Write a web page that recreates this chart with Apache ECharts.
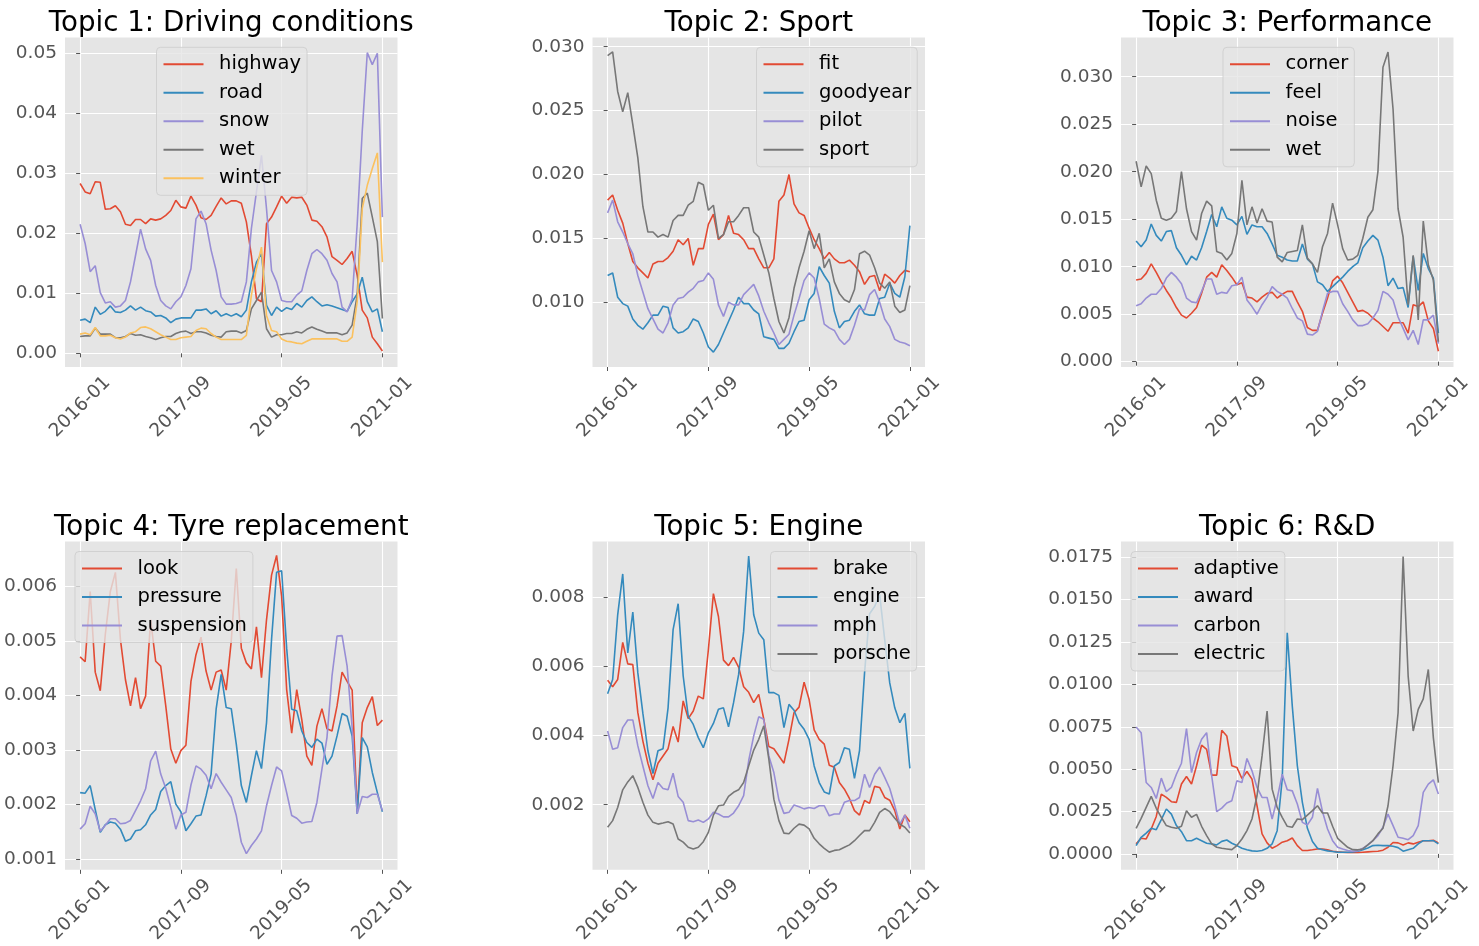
<!DOCTYPE html>
<html><head><meta charset="utf-8">
<script src="https://cdn.jsdelivr.net/npm/echarts@6/dist/echarts.min.js"></script>
<style>html,body{margin:0;padding:0;background:#fff}#c{width:1479px;height:946px}</style>
</head><body><div id="c"></div>
<script>
// ---------- categories ----------
const months = [];
for (let y = 2016; y <= 2021; y++) for (let m = 1; m <= 12; m++) { if (y === 2021 && m > 1) break; months.push(y + '-' + String(m).padStart(2, '0')); }
const xTickIdx = [0, 20, 40, 60];

// ---------- Topic 1 ----------
const t1Names = ['highway', 'road', 'snow', 'wet', 'winter'];
const t1_highway = [0.0283,0.0269,0.0266,0.0286,0.0285,0.0240,0.0241,0.0246,0.0236,0.0215,
 0.0213,0.0223,0.0223,0.0216,0.0224,0.0222,0.0224,0.0230,0.0238,0.0255,
 0.0244,0.0242,0.0262,0.0247,0.0226,0.0223,0.0230,0.0245,0.0259,0.0249,
 0.0254,0.0254,0.0250,0.0219,0.0163,0.0091,0.0086,0.0216,0.0227,0.0244,
 0.0262,0.0250,0.0260,0.0259,0.0260,0.0247,0.0222,0.0220,0.0211,0.0194,
 0.0161,0.0155,0.0148,0.0158,0.0170,0.0130,0.0072,0.0059,0.0027,0.0016,0.0004];
const t1_road = [0.0055,0.0057,0.0051,0.0077,0.0065,0.0070,0.0079,0.0069,0.0068,0.0072,
 0.0079,0.0072,0.0077,0.0071,0.0069,0.0062,0.0063,0.0059,0.0051,0.0057,
 0.0059,0.0059,0.0059,0.0072,0.0072,0.0074,0.0066,0.0071,0.0062,0.0066,
 0.0062,0.0066,0.0061,0.0072,0.0119,0.0152,0.0166,0.0080,0.0063,0.0077,
 0.0070,0.0076,0.0073,0.0083,0.0077,0.0088,0.0094,0.0086,0.0079,0.0081,
 0.0079,0.0076,0.0073,0.0070,0.0086,0.0099,0.0127,0.0086,0.0069,0.0074,0.0036];
const t1_snow = [0.0215,0.0183,0.0136,0.0146,0.0101,0.0084,0.0086,0.0077,0.0079,0.0088,
 0.0119,0.0163,0.0207,0.0174,0.0155,0.0113,0.0088,0.0079,0.0074,0.0086,
 0.0094,0.0113,0.0141,0.0224,0.0237,0.0216,0.0172,0.0138,0.0094,0.0082,
 0.0082,0.0083,0.0086,0.0119,0.0208,0.0269,0.0330,0.0241,0.0138,0.0119,
 0.0088,0.0086,0.0086,0.0097,0.0104,0.0138,0.0166,0.0173,0.0166,0.0155,
 0.0133,0.0119,0.0077,0.0069,0.0091,0.0215,0.0370,0.0501,0.0481,0.0500,0.0227];
const t1_wet = [0.0028,0.0029,0.0029,0.0042,0.0032,0.0032,0.0032,0.0026,0.0026,0.0028,
 0.0033,0.0030,0.0031,0.0028,0.0026,0.0023,0.0026,0.0028,0.0028,0.0033,
 0.0036,0.0037,0.0033,0.0036,0.0036,0.0034,0.0030,0.0028,0.0027,0.0036,
 0.0037,0.0037,0.0034,0.0038,0.0074,0.0088,0.0102,0.0041,0.0027,0.0031,
 0.0031,0.0033,0.0033,0.0036,0.0034,0.0040,0.0044,0.0040,0.0037,0.0034,
 0.0034,0.0034,0.0031,0.0034,0.0047,0.0097,0.0258,0.0267,0.0227,0.0186,0.0058];
const t1_winter = [0.0032,0.0034,0.0031,0.0043,0.0029,0.0029,0.0030,0.0026,0.0024,0.0027,
 0.0034,0.0036,0.0043,0.0044,0.0041,0.0036,0.0031,0.0027,0.0023,0.0023,
 0.0026,0.0027,0.0028,0.0038,0.0042,0.0041,0.0033,0.0027,0.0023,0.0023,
 0.0023,0.0023,0.0023,0.0030,0.0097,0.0141,0.0177,0.0063,0.0038,0.0036,
 0.0024,0.0020,0.0019,0.0017,0.0016,0.0020,0.0024,0.0024,0.0024,0.0024,
 0.0024,0.0024,0.0020,0.0020,0.0027,0.0086,0.0241,0.0280,0.0308,0.0334,0.0152];
const t1Ticks = [0, 0.01, 0.02, 0.03, 0.04, 0.05];

// ---------- Topic 2 ----------
const t2Names = ['fit', 'goodyear', 'pilot', 'sport'];
const t2_fit = [0.0180,0.0184,0.0172,0.0162,0.0146,0.0132,0.0127,0.0123,0.0119,0.0130,
 0.0132,0.0132,0.0135,0.0140,0.0149,0.0145,0.0150,0.0129,0.0142,0.0142,
 0.0161,0.0169,0.0149,0.0153,0.0168,0.0154,0.0153,0.0149,0.0142,0.0142,
 0.0134,0.0127,0.0127,0.0134,0.0179,0.0184,0.0200,0.0177,0.0170,0.0168,
 0.0158,0.0149,0.0142,0.0134,0.0139,0.0134,0.0131,0.0131,0.0133,0.0129,
 0.0124,0.0114,0.0120,0.0121,0.0109,0.0122,0.0119,0.0115,0.0121,0.0125,0.0124];
const t2_goodyear = [0.0121,0.0123,0.0104,0.0099,0.0097,0.0087,0.0082,0.0079,0.0084,0.0090,
 0.0090,0.0097,0.0096,0.0080,0.0076,0.0077,0.0080,0.0087,0.0085,0.0076,
 0.0065,0.0061,0.0067,0.0076,0.0085,0.0094,0.0104,0.0099,0.0099,0.0094,
 0.0091,0.0073,0.0072,0.0071,0.0064,0.0064,0.0068,0.0077,0.0085,0.0086,
 0.0102,0.0107,0.0128,0.0121,0.0115,0.0093,0.0080,0.0085,0.0086,0.0093,
 0.0098,0.0091,0.0090,0.0090,0.0103,0.0104,0.0115,0.0107,0.0104,0.0120,0.0160];
const t2_pilot = [0.0170,0.0180,0.0163,0.0155,0.0146,0.0138,0.0121,0.0108,0.0095,0.0087,
 0.0079,0.0076,0.0084,0.0098,0.0103,0.0104,0.0108,0.0111,0.0116,0.0117,
 0.0123,0.0118,0.0098,0.0089,0.0100,0.0098,0.0098,0.0106,0.0110,0.0114,
 0.0105,0.0093,0.0084,0.0076,0.0067,0.0071,0.0075,0.0090,0.0103,0.0117,
 0.0123,0.0119,0.0103,0.0083,0.0080,0.0078,0.0071,0.0067,0.0071,0.0082,
 0.0095,0.0094,0.0106,0.0110,0.0100,0.0087,0.0081,0.0071,0.0069,0.0068,0.0066];
const t2_sport = [0.0293,0.0296,0.0265,0.0249,0.0264,0.0239,0.0213,0.0175,0.0155,0.0155,
 0.0151,0.0153,0.0151,0.0164,0.0168,0.0168,0.0176,0.0179,0.0194,0.0192,
 0.0172,0.0176,0.0150,0.0153,0.0163,0.0163,0.0168,0.0174,0.0174,0.0155,
 0.0151,0.0137,0.0123,0.0103,0.0085,0.0076,0.0088,0.0111,0.0127,0.0140,
 0.0156,0.0142,0.0154,0.0127,0.0134,0.0116,0.0107,0.0102,0.0100,0.0110,
 0.0138,0.0140,0.0137,0.0127,0.0115,0.0111,0.0116,0.0097,0.0092,0.0094,0.0113];
const t2Ticks = [0.010, 0.015, 0.020, 0.025, 0.030];

// ---------- Topic 3 ----------
const t3Names = ['corner', 'feel', 'noise', 'wet'];
const t3_corner = [0.0086,0.0087,0.0093,0.0103,0.0094,0.0084,0.0075,0.0067,0.0057,0.0049,
 0.0046,0.0051,0.0057,0.0072,0.0089,0.0094,0.0089,0.0102,0.0096,0.0089,
 0.0081,0.0083,0.0068,0.0067,0.0063,0.0068,0.0072,0.0073,0.0067,0.0071,
 0.0074,0.0074,0.0063,0.0053,0.0036,0.0033,0.0033,0.0051,0.0067,0.0085,
 0.0090,0.0083,0.0073,0.0063,0.0053,0.0054,0.0051,0.0046,0.0042,0.0037,
 0.0032,0.0041,0.0041,0.0041,0.0030,0.0060,0.0058,0.0063,0.0043,0.0035,0.0011];
const t3_feel = [0.0127,0.0121,0.0128,0.0145,0.0133,0.0127,0.0137,0.0138,0.0120,0.0112,
 0.0102,0.0111,0.0107,0.0120,0.0137,0.0155,0.0142,0.0163,0.0151,0.0149,
 0.0144,0.0153,0.0134,0.0144,0.0142,0.0142,0.0135,0.0124,0.0112,0.0110,
 0.0107,0.0106,0.0106,0.0124,0.0108,0.0103,0.0084,0.0081,0.0074,0.0079,
 0.0084,0.0089,0.0095,0.0100,0.0104,0.0120,0.0127,0.0133,0.0128,0.0110,
 0.0080,0.0088,0.0077,0.0078,0.0057,0.0111,0.0075,0.0114,0.0098,0.0088,0.0030];
const t3_noise = [0.0059,0.0061,0.0067,0.0071,0.0071,0.0077,0.0088,0.0094,0.0089,0.0082,
 0.0067,0.0063,0.0062,0.0074,0.0087,0.0087,0.0071,0.0073,0.0072,0.0080,
 0.0081,0.0089,0.0065,0.0058,0.0050,0.0060,0.0068,0.0079,0.0074,0.0071,
 0.0067,0.0056,0.0046,0.0043,0.0029,0.0028,0.0032,0.0053,0.0072,0.0074,
 0.0074,0.0061,0.0053,0.0044,0.0038,0.0038,0.0040,0.0046,0.0054,0.0074,
 0.0071,0.0065,0.0047,0.0035,0.0023,0.0033,0.0018,0.0044,0.0044,0.0049,0.0019];
const t3_wet = [0.0211,0.0184,0.0206,0.0198,0.0170,0.0151,0.0149,0.0151,0.0158,0.0200,
 0.0161,0.0137,0.0128,0.0156,0.0169,0.0164,0.0116,0.0114,0.0107,0.0114,
 0.0135,0.0191,0.0144,0.0163,0.0146,0.0161,0.0148,0.0147,0.0110,0.0105,
 0.0115,0.0116,0.0117,0.0144,0.0109,0.0103,0.0094,0.0121,0.0135,0.0167,
 0.0144,0.0119,0.0107,0.0108,0.0112,0.0130,0.0152,0.0160,0.0200,0.0310,
 0.0326,0.0266,0.0161,0.0131,0.0060,0.0112,0.0044,0.0148,0.0102,0.0086,0.0021];
const t3Ticks = [0, 0.005, 0.010, 0.015, 0.020, 0.025, 0.030];

// ---------- Topic 4 ----------
const t4Names = ['look', 'pressure', 'suspension'];
const t4_look = [0.00471,0.00462,0.00591,0.00443,0.00409,0.00512,0.00591,0.00626,0.00503,0.00429,
 0.00381,0.00433,0.00376,0.00399,0.00539,0.00463,0.00454,0.00381,0.00302,0.00276,
 0.00299,0.00309,0.00426,0.00475,0.00507,0.00445,0.00410,0.00443,0.00447,0.00410,
 0.00500,0.00633,0.00487,0.00460,0.00449,0.00526,0.00433,0.00539,0.00621,0.00657,
 0.00582,0.00411,0.00331,0.00411,0.00356,0.00289,0.00272,0.00344,0.00376,0.00339,
 0.00335,0.00381,0.00443,0.00426,0.00410,0.00186,0.00350,0.00378,0.00398,0.00345,0.00355];
const t4_pressure = [0.00222,0.00221,0.00235,0.00191,0.00149,0.00163,0.00168,0.00166,0.00155,0.00133,
 0.00137,0.00152,0.00154,0.00163,0.00181,0.00191,0.00224,0.00235,0.00242,0.00201,
 0.00187,0.00152,0.00165,0.00179,0.00181,0.00216,0.00256,0.00375,0.00439,0.00378,
 0.00376,0.00311,0.00235,0.00204,0.00253,0.00299,0.00266,0.00350,0.00503,0.00626,
 0.00629,0.00487,0.00375,0.00372,0.00335,0.00314,0.00305,0.00320,0.00313,0.00274,
 0.00289,0.00326,0.00367,0.00362,0.00326,0.00183,0.00323,0.00306,0.00259,0.00222,0.00187];
const t4_suspension = [0.00155,0.00165,0.00197,0.00183,0.00151,0.00162,0.00174,0.00174,0.00165,0.00166,
 0.00171,0.00189,0.00207,0.00229,0.00280,0.00298,0.00256,0.00230,0.00195,0.00155,
 0.00181,0.00186,0.00236,0.00271,0.00265,0.00254,0.00229,0.00257,0.00241,0.00227,
 0.00213,0.00180,0.00131,0.00110,0.00125,0.00137,0.00152,0.00198,0.00235,0.00269,
 0.00262,0.00222,0.00180,0.00175,0.00166,0.00168,0.00169,0.00204,0.00265,0.00323,
 0.00436,0.00509,0.00510,0.00454,0.00341,0.00183,0.00215,0.00213,0.00219,0.00219,0.00189];
const t4Ticks = [0.001, 0.002, 0.003, 0.004, 0.005, 0.006];

// ---------- Topic 5 ----------
const t5Names = ['brake', 'engine', 'mph', 'porsche'];
const t5_brake = [0.00560,0.00541,0.00562,0.00669,0.00607,0.00605,0.00466,0.00384,0.00320,0.00272,
 0.00320,0.00341,0.00362,0.00426,0.00381,0.00500,0.00449,0.00471,0.00514,0.00506,
 0.00648,0.00810,0.00744,0.00618,0.00602,0.00626,0.00598,0.00541,0.00525,0.00495,
 0.00519,0.00447,0.00368,0.00362,0.00341,0.00320,0.00389,0.00466,0.00482,0.00554,
 0.00504,0.00416,0.00389,0.00375,0.00314,0.00308,0.00264,0.00245,0.00218,0.00183,
 0.00170,0.00212,0.00204,0.00253,0.00250,0.00221,0.00213,0.00183,0.00130,0.00170,0.00151];
const t5_engine = [0.00521,0.00562,0.00749,0.00867,0.00639,0.00757,0.00581,0.00464,0.00356,0.00290,
 0.00356,0.00362,0.00480,0.00706,0.00781,0.00572,0.00456,0.00432,0.00394,0.00365,
 0.00408,0.00435,0.00476,0.00480,0.00425,0.00495,0.00576,0.00701,0.00919,0.00749,
 0.00696,0.00677,0.00524,0.00524,0.00516,0.00423,0.00490,0.00473,0.00437,0.00418,
 0.00389,0.00312,0.00264,0.00237,0.00231,0.00312,0.00322,0.00365,0.00360,0.00276,
 0.00356,0.00581,0.00752,0.00773,0.00807,0.00677,0.00552,0.00480,0.00437,0.00464,0.00305];
const t5_mph = [0.00413,0.00360,0.00365,0.00423,0.00445,0.00445,0.00370,0.00312,0.00255,0.00218,
 0.00264,0.00247,0.00243,0.00291,0.00224,0.00207,0.00154,0.00151,0.00156,0.00149,
 0.00159,0.00178,0.00173,0.00165,0.00165,0.00176,0.00197,0.00226,0.00327,0.00399,
 0.00454,0.00447,0.00341,0.00293,0.00214,0.00175,0.00178,0.00199,0.00194,0.00188,
 0.00192,0.00189,0.00197,0.00197,0.00168,0.00173,0.00173,0.00207,0.00212,0.00212,
 0.00221,0.00288,0.00250,0.00288,0.00309,0.00279,0.00247,0.00197,0.00144,0.00170,0.00132];
const t5_porsche = [0.00135,0.00154,0.00192,0.00243,0.00266,0.00284,0.00250,0.00207,0.00170,0.00149,
 0.00144,0.00147,0.00151,0.00144,0.00101,0.00092,0.00077,0.00072,0.00077,0.00093,
 0.00120,0.00170,0.00197,0.00199,0.00224,0.00236,0.00243,0.00264,0.00312,0.00358,
 0.00389,0.00428,0.00332,0.00216,0.00154,0.00118,0.00116,0.00132,0.00144,0.00141,
 0.00130,0.00103,0.00087,0.00074,0.00063,0.00068,0.00070,0.00077,0.00084,0.00096,
 0.00111,0.00125,0.00125,0.00149,0.00178,0.00189,0.00180,0.00161,0.00144,0.00135,0.00118];
const t5Ticks = [0.002, 0.004, 0.006, 0.008];

// ---------- Topic 6 ----------
const t6Names = ['adaptive', 'award', 'carbon', 'electric'];
const t6_adaptive = [0.00059,0.00092,0.00088,0.00147,0.00221,0.00353,0.00333,0.00308,0.00304,0.00412,
 0.00457,0.00412,0.00520,0.00641,0.00617,0.00465,0.00465,0.00729,0.00696,0.00520,
 0.00510,0.00445,0.00486,0.00441,0.00284,0.00118,0.00065,0.00033,0.00049,0.00069,
 0.00078,0.00094,0.00049,0.00020,0.00020,0.00024,0.00029,0.00029,0.00024,0.00016,
 0.00012,0.00010,0.00008,0.00008,0.00008,0.00010,0.00012,0.00014,0.00016,0.00022,
 0.00039,0.00067,0.00065,0.00053,0.00065,0.00059,0.00069,0.00078,0.00078,0.00080,0.00065];
const t6_award = [0.00049,0.00098,0.00123,0.00151,0.00143,0.00202,0.00265,0.00235,0.00167,0.00131,
 0.00078,0.00078,0.00092,0.00078,0.00063,0.00059,0.00053,0.00074,0.00082,0.00063,
 0.00049,0.00033,0.00024,0.00018,0.00016,0.00020,0.00033,0.00059,0.00137,0.00441,
 0.01304,0.00872,0.00520,0.00304,0.00151,0.00073,0.00033,0.00024,0.00018,0.00014,
 0.00010,0.00010,0.00010,0.00012,0.00016,0.00024,0.00035,0.00049,0.00051,0.00049,
 0.00049,0.00045,0.00037,0.00016,0.00025,0.00033,0.00059,0.00078,0.00078,0.00078,0.00059];
const t6_carbon = [0.00749,0.00715,0.00421,0.00392,0.00327,0.00447,0.00367,0.00392,0.00470,0.00535,
 0.00739,0.00480,0.00598,0.00676,0.00715,0.00461,0.00249,0.00270,0.00300,0.00314,
 0.00431,0.00421,0.00563,0.00490,0.00392,0.00333,0.00333,0.00206,0.00327,0.00470,
 0.00378,0.00372,0.00294,0.00186,0.00171,0.00216,0.00386,0.00249,0.00147,0.00078,
 0.00039,0.00029,0.00020,0.00016,0.00018,0.00033,0.00053,0.00078,0.00108,0.00157,
 0.00235,0.00167,0.00098,0.00092,0.00084,0.00108,0.00167,0.00363,0.00412,0.00437,0.00353];
const t6_electric = [0.00151,0.00210,0.00274,0.00339,0.00269,0.00216,0.00167,0.00157,0.00151,0.00163,
 0.00255,0.00216,0.00233,0.00163,0.00108,0.00059,0.00039,0.00033,0.00029,0.00025,
 0.00049,0.00088,0.00137,0.00206,0.00343,0.00578,0.00843,0.00382,0.00274,0.00216,
 0.00163,0.00157,0.00206,0.00202,0.00229,0.00255,0.00284,0.00241,0.00241,0.00163,
 0.00092,0.00065,0.00039,0.00025,0.00024,0.00029,0.00053,0.00078,0.00118,0.00151,
 0.00284,0.00520,0.00833,0.01755,0.01049,0.00725,0.00853,0.00915,0.01088,0.00686,0.00421];
const t6Ticks = [0, 0.0025, 0.005, 0.0075, 0.01, 0.0125, 0.015, 0.0175];

// ---------- layout / style ----------
const colors = ['#E24A33', '#348ABD', '#988ED5', '#777777', '#FBC15E'];
const FONT = 'DejaVu Sans';
const colLeft = [65, 592.5, 1121];
const rowTop = [37.5, 541.5];
const W = 332.5, H = 329.5;

const panels = [
  { title: 'Topic 1: Driving conditions', names: t1Names, series: [t1_highway, t1_road, t1_snow, t1_wet, t1_winter],
    ticks: t1Ticks, dec: 2, min: -0.00228, max: 0.05263, split: 5, legend: [156.5, 47.3] },
  { title: 'Topic 2: Sport', names: t2Names, series: [t2_fit, t2_goodyear, t2_pilot, t2_sport],
    ticks: t2Ticks, dec: 3, min: 0.00494, max: 0.03072, split: 5, legend: [756.5, 47.3] },
  { title: 'Topic 3: Performance', names: t3Names, series: [t3_corner, t3_feel, t3_noise, t3_wet],
    ticks: t3Ticks, dec: 3, min: -0.00056, max: 0.03413, split: 7, legend: [1223, 47.3] },
  { title: 'Topic 4: Tyre replacement', names: t4Names, series: [t4_look, t4_pressure, t4_suspension],
    ticks: t4Ticks, dec: 3, min: 0.000804, max: 0.006826, split: 6, legend: [75, 551.5] },
  { title: 'Topic 5: Engine', names: t5Names, series: [t5_brake, t5_engine, t5_mph, t5_porsche],
    ticks: t5Ticks, dec: 3, min: 0.000118, max: 0.009608, split: 5, legend: [770.5, 551.5] },
  { title: 'Topic 6: R&D', names: t6Names, series: [t6_adaptive, t6_award, t6_carbon, t6_electric],
    ticks: t6Ticks, dec: 4, min: -0.00094, max: 0.01843, split: 8, legend: [1131, 551.5] }
];

const option = { animation: false, backgroundColor: '#ffffff', title: [], grid: [], xAxis: [], yAxis: [], legend: [], series: [] };

panels.forEach((p, k) => {
  const left = colLeft[k % 3], top = rowTop[Math.floor(k / 3)];
  option.grid.push({ left: left, top: top, width: W, height: H, show: true, backgroundColor: '#E5E5E5', borderWidth: 0, containLabel: false });
  option.title.push({ text: p.title, left: left + W / 2, top: top - 27.5, textAlign: 'center', padding: 0,
    textStyle: { fontFamily: FONT, fontSize: 27.7, fontWeight: 'normal', color: '#000' } });
  option.xAxis.push({
    type: 'value', gridIndex: k, min: -3, max: 63, splitNumber: 3,
    axisLine: { show: false },
    axisTick: { show: true, customValues: xTickIdx, length: 4, lineStyle: { color: '#555555', width: 1 } },
    axisLabel: { customValues: xTickIdx, showMinLabel: true, showMaxLabel: true,
      formatter: v => (Number.isInteger(v) && months[v]) ? months[v] : '',
      rotate: 45, align: 'center', verticalAlign: 'middle', margin: 40,
      fontFamily: FONT, fontSize: 18.5, color: '#555555' },
    splitLine: { show: true, lineStyle: { color: '#ffffff', width: 1.1 } }
  });
  option.yAxis.push({
    type: 'value', gridIndex: k, min: p.min, max: p.max, splitNumber: p.split,
    axisLine: { show: false },
    axisTick: { show: true, customValues: p.ticks, length: 4, lineStyle: { color: '#555555', width: 1 } },
    axisLabel: { customValues: p.ticks, showMinLabel: true, showMaxLabel: true,
      formatter: v => { const t = p.ticks.find(tt => Math.abs(tt - v) < 1e-9); return t === undefined ? '' : t.toFixed(p.dec); },
      margin: 8, fontFamily: FONT, fontSize: 18.5, color: '#555555' },
    splitLine: { show: true, lineStyle: { color: '#ffffff', width: 1.1 } }
  });
  option.legend.push({
    orient: 'vertical', left: p.legend[0], top: p.legend[1], data: p.names,
    itemWidth: 40, itemHeight: 14, itemGap: 8.5,
    padding: [7, 6, 7, 6],
    itemStyle: { opacity: 0, borderWidth: 0 },
    backgroundColor: 'rgba(229,229,229,0.8)', borderColor: 'rgba(204,204,204,0.8)', borderWidth: 1, borderRadius: 4,
    textStyle: { fontFamily: FONT, fontSize: 19.5, color: '#000', lineHeight: 20, padding: [0, 0, 0, 10.6] },
    selectedMode: false
  });
  p.names.forEach((name, j) => {
    option.series.push({
      type: 'line', name: name, xAxisIndex: k, yAxisIndex: k,
      data: p.series[j].map((v, i) => [i, v]),
      symbol: 'none', showSymbol: false,
      lineStyle: { color: colors[j], width: 1.6 },
      itemStyle: { color: colors[j] },
      emphasis: { disabled: true }
    });
  });
});

const chart = echarts.init(document.getElementById('c'), null, { renderer: 'canvas' });
chart.setOption(option);
</script>
</body></html>
